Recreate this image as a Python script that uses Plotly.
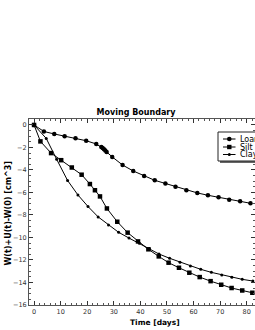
import plotly.graph_objects as go

# Data
loam_t = [0, 3.7, 7.6, 11.5, 15.6, 19.6, 23.4, 25.3, 25.8, 26.3, 26.8, 27.3, 29.4, 33.3,
          37.3, 41.4, 45.4, 49.4, 53.2, 57.3, 61.4, 65.4, 69.4, 73.4, 77.5, 81.4]
loam_y = [0, -0.58, -0.8, -1.0, -1.19, -1.4, -1.69, -1.95, -2.05, -2.15, -2.27, -2.4, -2.84, -3.56,
          -4.09, -4.53, -4.92, -5.2, -5.48, -5.8, -6.04, -6.25, -6.43, -6.64, -6.78, -6.96]

silt_t = [0, 2.4, 6.4, 10.2, 14.2, 17.9, 21.0, 22.9, 24.8, 27.4, 31.3, 35.2, 39.1, 43.0,
          46.9, 50.6, 54.5, 58.4, 62.3, 66.4, 70.4, 74.3, 78.3, 82.1]
silt_y = [0, -1.46, -2.5, -3.13, -3.78, -4.42, -5.25, -5.8, -6.35, -7.42, -8.6, -9.57, -10.35, -11.05,
          -11.68, -12.24, -12.69, -13.13, -13.52, -13.88, -14.2, -14.49, -14.71, -14.91]

clay_t = [0, 4.6, 8.5, 12.6, 16.5, 20.3, 24.1, 28.0, 31.8, 35.7, 39.6, 43.4,
          47.0, 51.0, 54.9, 58.8, 62.7, 66.7, 70.6, 74.4, 78.3, 82.3]
clay_y = [0, -1.2, -3.05, -4.93, -6.22, -7.25, -8.17, -8.9, -9.54, -10.05, -10.52, -11.0,
          -11.47, -11.85, -12.2, -12.53, -12.83, -13.1, -13.33, -13.54, -13.72, -13.87]

series_names = ["Loam", "Silt", "Clay"]
x_ticks = [0, 10, 20, 30, 40, 50, 60, 70, 80]
y_ticks = [0, -2, -4, -6, -8, -10, -12, -14, -16]

FONT = "DejaVu Sans"

W, H = 255, 330
ML, MT, MB, MR = 29, 119, 25, 0
PW = W - ML - MR
PH = H - MT - MB


def px(x):  # pixel x -> paper coordinate
    return (x - ML) / PW


def py(y):  # pixel y -> paper coordinate
    return (H - MB - y) / PH


styles = [
    dict(symbol="circle", size=4.5),
    dict(symbol="square", size=4.5),
    dict(symbol="circle", size=3),
]
data = [(loam_t, loam_y), (silt_t, silt_y), (clay_t, clay_y)]

fig = go.Figure()
for name, (t, y), st in zip(series_names, data, styles):
    fig.add_trace(go.Scatter(x=t, y=y, name=name, mode="lines+markers",
                             line=dict(color="black", width=1),
                             marker=dict(color="black", **st),
                             showlegend=False))

axis_common = dict(
    showline=True, linecolor="#555", linewidth=1, mirror="ticks",
    ticks="inside", ticklen=4, tickcolor="#333", tickwidth=1,
    showgrid=False, zeroline=False,
    tickfont=dict(family=FONT, size=6.5, color="#333"),
)

# ---- hand-drawn legend box (shadow + frame + samples + labels) ----
shapes = []
annotations = []
shapes.append(dict(type="rect", xref="paper", yref="paper", layer="above",
                   x0=px(220), x1=px(275), y0=py(163), y1=py(134),
                   fillcolor="#666", line=dict(width=0)))
shapes.append(dict(type="rect", xref="paper", yref="paper", layer="above",
                   x0=px(218), x1=px(273), y0=py(161), y1=py(132),
                   fillcolor="white", line=dict(color="#222", width=1)))
entry_y = [139, 147, 154.5]
marker_r = [2.3, 2.2, 1.5]
for i, (name, ey) in enumerate(zip(series_names, entry_y)):
    yc = py(ey)
    shapes.append(dict(type="line", xref="paper", yref="paper", layer="above",
                       x0=px(223), x1=px(235.5), y0=yc, y1=yc,
                       line=dict(color="black", width=1)))
    r = marker_r[i]
    shapes.append(dict(type="circle" if i != 1 else "rect", xref="paper", yref="paper",
                       layer="above",
                       x0=px(229.3 - r), x1=px(229.3 + r),
                       y0=py(ey + r), y1=py(ey - r),
                       fillcolor="black", line=dict(width=0)))
    annotations.append(dict(text=name, xref="paper", yref="paper",
                            x=px(237.5), y=yc, xanchor="left", yanchor="middle",
                            showarrow=False,
                            font=dict(family=FONT, size=8, color="black")))

annotations.append(dict(text="<b>Time [days]</b>", xref="paper", yref="paper",
                        x=px(155), y=py(322), xanchor="center", yanchor="middle",
                        showarrow=False,
                        font=dict(family=FONT, size=7.5, color="black")))
annotations.append(dict(text="<b>W(t)+U(t)-W(0) [cm^3]</b>", xref="paper", yref="paper",
                        x=px(7.5), y=py(214), xanchor="center", yanchor="middle",
                        textangle=-90, showarrow=False,
                        font=dict(family=FONT, size=8, color="black")))

fig.update_layout(
    width=W, height=H,
    margin=dict(l=ML, r=MR, t=MT, b=MB, pad=0),
    paper_bgcolor="white", plot_bgcolor="white",
    title=dict(text="<b>Moving Boundary</b>", x=136 / W, xanchor="center",
               y=1 - 112 / H, yanchor="middle", yref="container",
               font=dict(family=FONT, size=8, color="black")),
    xaxis=dict(range=[-1.9, 83.1], tickvals=x_ticks,
               minor=dict(ticks="inside", ticklen=2, dtick=2, tickcolor="#555"),
               **axis_common),
    yaxis=dict(range=[-16, 0.53], tickvals=y_ticks,
               minor=dict(ticks="inside", ticklen=2, dtick=0.5, tickcolor="#555"),
               **axis_common),
    showlegend=False,
    shapes=shapes,
    annotations=annotations,
)

fig.write_html(
    "out.html",
    config={"displayModeBar": False},
    post_script="document.body.style.margin='0';document.body.style.overflow='hidden';",
)
